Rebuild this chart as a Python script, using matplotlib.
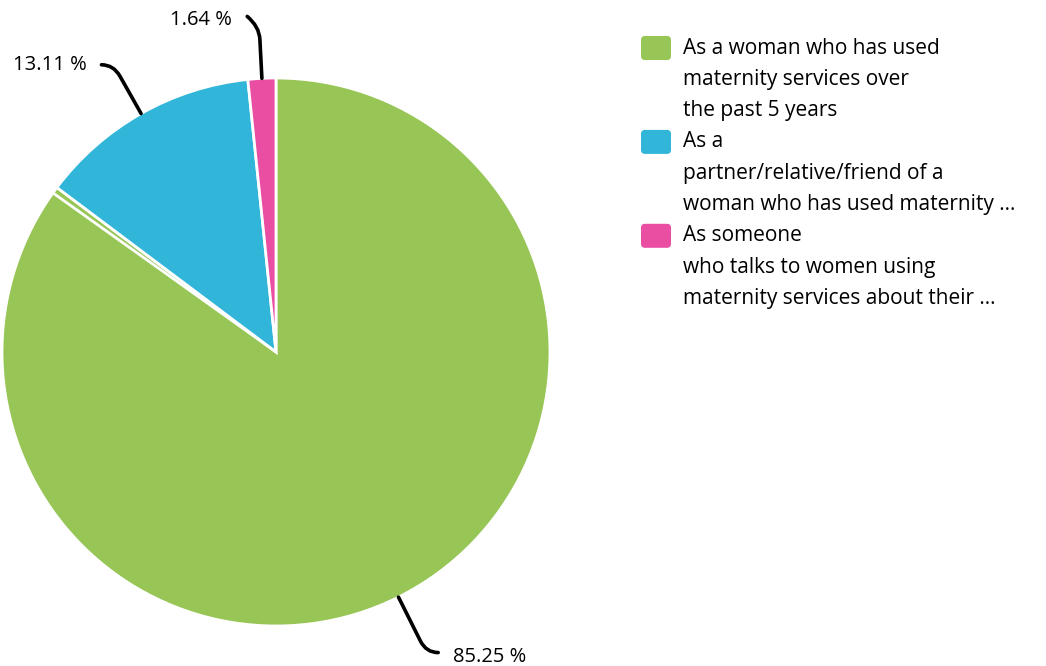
import matplotlib
matplotlib.use('Agg')
import matplotlib.pyplot as plt
import numpy as np
from matplotlib.path import Path
from matplotlib.patches import PathPatch, FancyBboxPatch

plt.rcParams['font.family'] = ['Open Sans', 'DejaVu Sans']

# Respondent groups and their shares (%)
categories = [
    'As a woman who has used\nmaternity services over\nthe past 5 years',
    'As a\npartner/relative/friend of a\nwoman who has used maternity ...',
    'As someone\nwho talks to women using\nmaternity services about their ...',
]
shares = [85.25, 13.11, 1.64]
colors = ['#97c656', '#31b6da', '#e94ea2']

W, H = 1046, 666
fig = plt.figure(figsize=(W / 100, H / 100), dpi=100)
ax = fig.add_axes([0, 0, 1, 1])

cx, cy, r = 276, H - 352, 274
wedges, _ = ax.pie(shares, colors=colors, startangle=90, counterclock=False,
                   center=(cx, cy), radius=r, frame=True,
                   wedgeprops=dict(edgecolor='white', linewidth=2))
ax.set_xlim(0, W)
ax.set_ylim(0, H)
ax.set_aspect('equal')
ax.axis('off')

# thin white seam just inside the end of the first wedge
seam = np.deg2rad(90 + 360 * (1 - shares[0] / 100) + 1.4)
ax.plot([cx, cx + r * np.cos(seam)], [cy, cy + r * np.sin(seam)],
        color='white', lw=2, solid_capstyle='butt')

# curved leader lines and percentage labels
leader_len = [62, 56, 52]
cum = 0
for val, ln in zip(shares, leader_len):
    mid = np.deg2rad(90 - 360 * (cum + val / 2) / 100)
    cum += val
    d = np.array([np.cos(mid), np.sin(mid)])
    p0 = np.array([cx, cy]) + r * d
    elbow = np.array([cx, cy]) + (r + ln) * d
    pre = np.array([cx, cy]) + (r + ln - 13) * d
    side = 1 if d[0] > 0 else -1
    end = elbow + np.array([side * 12, 0])
    dy = -4 if side > 0 else 0
    if abs(d[0]) < 0.1:
        end = elbow + np.array([-12, 10])
        dy = -4
    path = Path([p0, pre, elbow, end],
                [Path.MOVETO, Path.LINETO, Path.CURVE3, Path.CURVE3])
    ax.add_patch(PathPatch(path, fill=False, lw=2.6, color='black',
                           capstyle='round'))
    ha = 'left' if side > 0 else 'right'
    ax.text(end[0] + side * 15, end[1] + dy, f'{val:.2f} %', ha=ha, va='center',
            fontsize=14.5, color='black')

# legend drawn by hand
lx, ty, step = 640, H - 48, 31.3
line = 0
for lab, col in zip(categories, colors):
    y = ty - line * step
    ax.add_patch(FancyBboxPatch((lx + 1, y - 12), 30, 24,
                                boxstyle='round,pad=0,rounding_size=4',
                                fc=col, ec='none'))
    for k, part in enumerate(lab.split('\n')):
        ax.text(683, ty - (line + k) * step, part, ha='left', va='center',
                fontsize=15, color='black')
    line += len(lab.split('\n'))

fig.savefig('out.png', dpi=100)
